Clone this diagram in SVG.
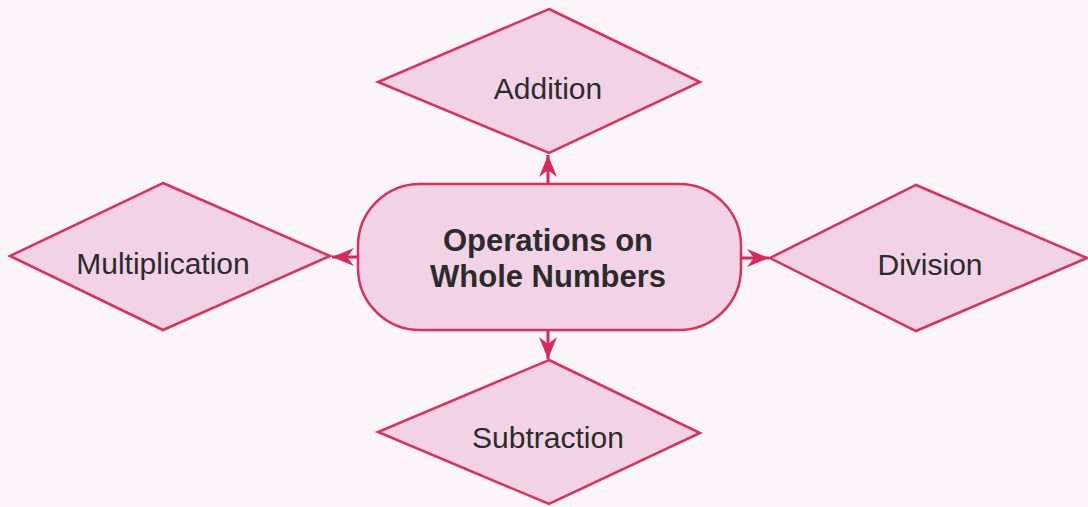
<svg xmlns="http://www.w3.org/2000/svg" width="1088" height="507" viewBox="0 0 1088 507">
  <style>
    .shape { fill: #f2d3e6; stroke: #dc2f5c; stroke-width: 2.5; stroke-linejoin: miter; }
    .lbl { font-family: "Liberation Sans", Arial, sans-serif; font-size: 30px; fill: #2b2b2b; text-anchor: middle; }
    .title { font-family: "Liberation Sans", Arial, sans-serif; font-size: 31px; font-weight: bold; fill: #2b2b2b; text-anchor: middle; }
    .conn { stroke: #d9285a; stroke-width: 3; fill: none; marker-end: url(#head); }
  </style>
  <defs>
    <marker id="head" viewBox="-22 -10 23 20" refX="0" refY="0" markerWidth="23" markerHeight="20" markerUnits="userSpaceOnUse" orient="auto">
      <path d="M0,0 L-22,-9 L-15,0 L-22,9 Z" fill="#d9285a"/>
    </marker>
  </defs>
  <rect width="1088" height="507" fill="#fbf5f9"/>

  <g id="addition">
    <polygon class="shape" points="549,9 700,82 549,153 378,82"/>
    <text class="lbl" x="548" y="99">Addition</text>
  </g>
  <g id="multiplication">
    <polygon class="shape" points="163,183 330,256 163,330 10,256"/>
    <text class="lbl" x="163" y="274">Multiplication</text>
  </g>
  <g id="division">
    <polygon class="shape" points="916,185 1087,258 916,331 770,258"/>
    <text class="lbl" x="930" y="275">Division</text>
  </g>
  <g id="subtraction">
    <polygon class="shape" points="549,360 700,433 549,504 378,432"/>
    <text class="lbl" x="548" y="448">Subtraction</text>
  </g>
  <g id="center">
    <rect class="shape" x="358" y="184" width="383" height="146" rx="62" ry="62"/>
    <text class="title" x="548" y="251">Operations on</text>
    <text class="title" x="548" y="287">Whole Numbers</text>
  </g>

  <g id="connectors">
    <line class="conn" x1="548" y1="184" x2="548" y2="155"/>
    <line class="conn" x1="548" y1="330" x2="548" y2="359"/>
    <line class="conn" x1="358" y1="257" x2="332" y2="257"/>
    <line class="conn" x1="741" y1="258" x2="769" y2="258"/>
  </g>
</svg>
